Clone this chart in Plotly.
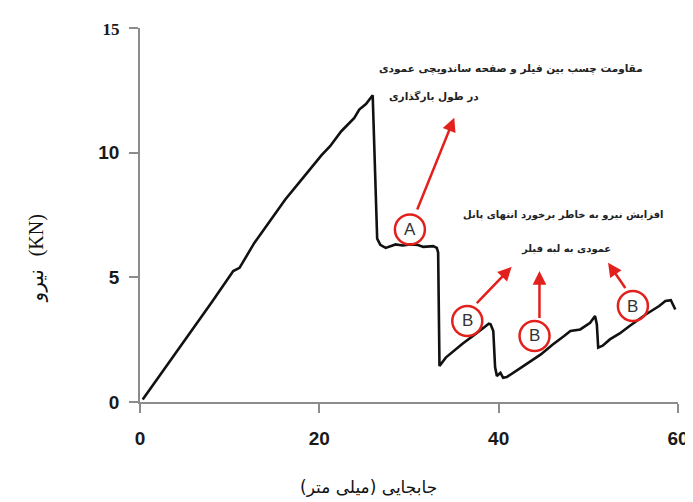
import plotly.graph_objects as go

# ---- data ----
disp = [0.3, 2.0, 3.0, 5.5, 8.0, 10.4, 11.1, 12.75, 14.5, 16.2, 18.2, 20.25, 21.2, 22.45, 23.9,
        24.45, 25.2, 25.95, 26.45, 26.8, 27.4, 28.5, 29.3, 30.1, 31.0, 31.6, 32.7, 33.1, 33.25,
        33.4, 34.1, 36.0, 37.5, 38.9, 39.1, 39.4, 39.6, 39.8, 40.2, 40.5, 40.9, 41.4, 42.5, 44.7,
        46.0, 47.3, 48.0, 49.1, 50.2, 50.75, 50.95, 51.1, 51.6, 52.4, 53.5, 54.6, 56.4, 57.9,
        58.6, 59.2, 59.7]
force = [0.1, 0.95, 1.45, 2.75, 4.0, 5.25, 5.38, 6.38, 7.25, 8.12, 9.0, 9.9, 10.26, 10.86, 11.39,
         11.73, 11.95, 12.3, 6.55, 6.3, 6.18, 6.32, 6.28, 6.32, 6.3, 6.22, 6.25, 6.18, 6.0,
         1.44, 1.78, 2.35, 2.75, 3.14, 3.12, 2.85, 1.4, 1.04, 1.17, 0.97, 1.0, 1.13, 1.38, 1.91,
         2.3, 2.65, 2.85, 2.91, 3.18, 3.45, 3.11, 2.18, 2.26, 2.51, 2.75, 3.05, 3.51, 3.85,
         4.05, 4.08, 3.71]

x_ticks = [0, 20, 40, 60]
y_ticks = [0, 5, 10, 15]
y_tick_labels = ["0", "5", "10", "15"]

marker_letters = ["A", "B", "B", "B"]
marker_x = [30.1, 36.5, 44.0, 54.97]
marker_y = [6.92, 3.25, 2.65, 3.85]

arrow_tail_x = [30.85, 37.4, 44.55, 54.24]
arrow_tail_y = [7.66, 3.91, 3.31, 4.51]
arrow_head_x = [35.05, 41.45, 44.55, 52.2]
arrow_head_y = [11.4, 5.42, 5.25, 5.58]

note_lines = ["مقاومت چسب بین فیلر و صفحه ساندویچی عمودی",
              "در طول بارگذاری",
              "افزایش نیرو به خاطر برخورد انتهای پانل",
              "عمودی به لبه فیلر"]
note_x = [26.43, 27.53, 35.76, 42.23]   # left edge of each line
note_y = [13.36, 12.26, 7.49, 6.14]
note_size = [10.5, 10.5, 10, 10]

x_title = "جابجایی (میلی متر)"
y_title_word = "نیرو"
y_title_unit = "(KN)"

RED = "#e3211c"
AXIS = "#8c8c8c"
ARABIC_FONT = "DejaVu Sans"
RLM = "\u200f"

fig = go.Figure()
fig.add_trace(go.Scatter(x=disp, y=force, mode="lines",
                         line=dict(color="#111111", width=2.6),
                         showlegend=False, hoverinfo="skip"))

shapes = []
annotations = []
for L, cx, cy in zip(marker_letters, marker_x, marker_y):
    shapes.append(dict(type="circle", xref="x", yref="y", xsizemode="pixel", ysizemode="pixel",
                       xanchor=cx, yanchor=cy, x0=-15, x1=15, y0=-15, y1=15,
                       line=dict(color=RED, width=2.5), fillcolor="rgba(0,0,0,0)"))
    annotations.append(dict(x=cx, y=cy, xref="x", yref="y", text=L, showarrow=False,
                            font=dict(family="Liberation Sans", size=17, color="#333333")))

for tx, ty, hx, hy in zip(arrow_tail_x, arrow_tail_y, arrow_head_x, arrow_head_y):
    annotations.append(dict(x=hx, y=hy, ax=tx, ay=ty, xref="x", yref="y", axref="x", ayref="y",
                            text="", showarrow=True, arrowhead=2, arrowsize=1.1,
                            arrowwidth=2.5, arrowcolor=RED))

for s, nx, ny, fs in zip(note_lines, note_x, note_y, note_size):
    annotations.append(dict(x=nx, y=ny, xref="x", yref="y", text=s, xanchor="left",
                            showarrow=False,
                            font=dict(family=ARABIC_FONT, size=fs, color="#222222",
                                      weight="bold")))

annotations.append(dict(x=0.2943, y=-0.226, xref="paper", yref="paper", xanchor="left",
                        yanchor="middle", text=x_title + RLM, showarrow=False,
                        font=dict(family=ARABIC_FONT, size=17, color="#111111")))
annotations.append(dict(x=-0.194, y=0.383, xref="paper", yref="paper", xanchor="center",
                        yanchor="middle", textangle=-90, showarrow=False,
                        text=y_title_word + "\u00a0\u00a0<span style=\"font-family:Liberation Serif\">"
                        + y_title_unit + "</span>",
                        font=dict(family=ARABIC_FONT, size=20, color="#111111")))

y_tick_text = []
for t in y_tick_labels:
    if t == "15":
        y_tick_text.append("<span style=\"font-family:Liberation Serif;font-size:17px\">" + t + "</span>")
    else:
        y_tick_text.append(t)

fig.update_layout(
    width=693, height=502,
    margin=dict(l=132, r=14, t=20, b=108),
    paper_bgcolor="white", plot_bgcolor="white",
    shapes=shapes, annotations=annotations,
    xaxis=dict(range=[0, 60], tickvals=x_ticks, showgrid=False, zeroline=False,
               showline=True, linecolor=AXIS, linewidth=1.5,
               ticks="outside", ticklen=9, tickwidth=1.5, tickcolor=AXIS,
               ticklabelstandoff=9,
               tickfont=dict(family="Liberation Sans", size=19, color="#1a1a1a", weight="bold")),
    yaxis=dict(range=[0, 15], tickvals=y_ticks, ticktext=y_tick_text, showgrid=False,
               zeroline=False, showline=True, linecolor=AXIS, linewidth=1.5,
               ticks="outside", ticklen=9, tickwidth=1.5, tickcolor=AXIS,
               ticklabelstandoff=6,
               tickfont=dict(family="Liberation Sans", size=19, color="#1a1a1a", weight="bold")),
)

fig.write_html("out.html")
